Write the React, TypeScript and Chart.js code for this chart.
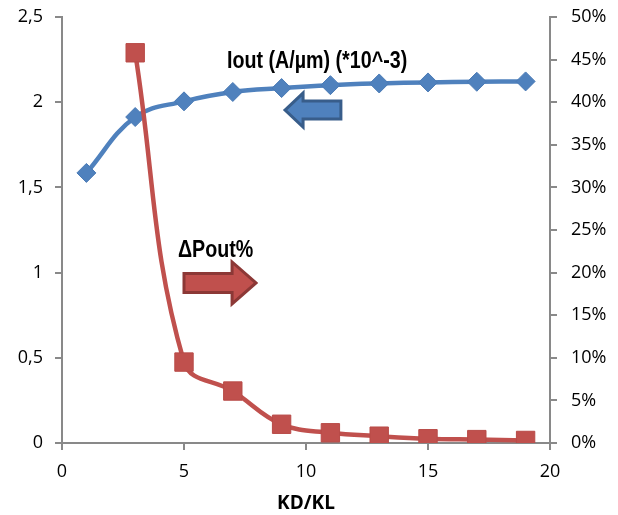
import React, { useEffect, useRef } from "react";
import { Chart, registerables } from "chart.js";

Chart.register(...registerables);

const kdkl = [1, 3, 5, 7, 9, 11, 13, 15, 17, 19];
const ioutValues = [1.585, 1.913, 2.005, 2.06, 2.083, 2.1, 2.11, 2.116, 2.12, 2.122];
const deltaPoutX = [3, 5, 7, 9, 11, 13, 15, 17, 19];
const deltaPoutPct = [45.8, 9.5, 6.1, 2.2, 1.2, 0.8, 0.5, 0.4, 0.3];

const leftTicks = [0, 0.5, 1, 1.5, 2, 2.5];
const rightTicks = [0, 5, 10, 15, 20, 25, 30, 35, 40, 45, 50];

const ioutLabel = "Iout (A/µm) (*10^-3)";
const poutLabel = "ΔPout%";
const xTitle = "KD/KL";

const BLUE = "#4F81BD";
const BLUE_DARK = "#385D8A";
const RED = "#C0504D";
const RED_DARK = "#8C3836";
const AXIS = "#898989";
const TICK_FONT = { family: "'Open Sans', 'DejaVu Sans', sans-serif", size: 18 };
const NOTE_FONT = "bold 24px 'Liberation Sans', Arial, sans-serif";
const NOTE_SQUEEZE = 0.82;

function drawArrow(
  ctx: CanvasRenderingContext2D,
  tipX: number, tailX: number, baseX: number, cy: number,
  bodyHalf: number, headHalf: number, fill: string, stroke: string
) {
  ctx.save();
  ctx.beginPath();
  ctx.moveTo(tipX, cy);
  ctx.lineTo(baseX, cy - headHalf);
  ctx.lineTo(baseX, cy - bodyHalf);
  ctx.lineTo(tailX, cy - bodyHalf);
  ctx.lineTo(tailX, cy + bodyHalf);
  ctx.lineTo(baseX, cy + bodyHalf);
  ctx.lineTo(baseX, cy + headHalf);
  ctx.closePath();
  ctx.fillStyle = fill;
  ctx.fill();
  ctx.lineWidth = 3;
  ctx.lineJoin = "miter";
  ctx.strokeStyle = stroke;
  ctx.stroke();
  ctx.restore();
}

function drawNote(ctx: CanvasRenderingContext2D, text: string, px: number, py: number) {
  ctx.save();
  ctx.translate(px, py);
  ctx.scale(NOTE_SQUEEZE, 1);
  ctx.font = NOTE_FONT;
  ctx.fillStyle = "#000";
  ctx.textBaseline = "alphabetic";
  ctx.textAlign = "left";
  ctx.fillText(text, 0, 0);
  ctx.restore();
}

const notesPlugin = {
  id: "notes",
  afterDraw(chart: any) {
    const { ctx, scales } = chart;
    const x = scales.x;
    const y = scales.yLeft;
    drawNote(ctx, ioutLabel, x.getPixelForValue(6.76), y.getPixelForValue(2.2));
    drawNote(ctx, poutLabel, x.getPixelForValue(4.75), y.getPixelForValue(1.09));
    drawArrow(ctx, x.getPixelForValue(9.14), x.getPixelForValue(11.43), x.getPixelForValue(9.88),
      y.getPixelForValue(1.954), 9, 17, BLUE, BLUE_DARK);
    drawArrow(ctx, x.getPixelForValue(7.95), x.getPixelForValue(5.0), x.getPixelForValue(6.97),
      y.getPixelForValue(0.939), 9.5, 21, RED, RED_DARK);
  },
};

export default function App() {
  const ref = useRef<HTMLCanvasElement | null>(null);
  useEffect(() => {
    document.body.style.margin = "0";
    const canvas = ref.current;
    if (!canvas) return;
    const chart = new Chart(canvas, {
      type: "line",
      data: {
        datasets: [
          {
            label: poutLabel,
            data: deltaPoutX.map((v, i) => ({ x: v, y: deltaPoutPct[i] })),
            yAxisID: "yRight",
            borderColor: RED,
            backgroundColor: RED,
            borderWidth: 4.5,
            pointStyle: "rect",
            pointRadius: 13,
            pointBorderColor: "#B84A47",
            pointBorderWidth: 1,
            tension: 0.4,
          },
          {
            label: ioutLabel,
            data: kdkl.map((v, i) => ({ x: v, y: ioutValues[i] })),
            yAxisID: "yLeft",
            borderColor: BLUE,
            backgroundColor: BLUE,
            borderWidth: 4.5,
            pointStyle: "rectRot",
            pointRadius: 9.5,
            pointBorderColor: "#4A7AB5",
            pointBorderWidth: 1,
            tension: 0.4,
          },
        ],
      },
      options: {
        responsive: false,
        animation: false,
        layout: { padding: { top: 17, left: 0, right: 0, bottom: 0 } },
        plugins: { legend: { display: false }, tooltip: { enabled: false } },
        scales: {
          x: {
            type: "linear",
            min: 0,
            max: 20,
            border: { display: true, color: AXIS, width: 2 },
            grid: { drawOnChartArea: false, drawTicks: true, tickLength: 7, color: AXIS, lineWidth: 2 },
            ticks: { stepSize: 5, padding: 11, color: "#000", font: TICK_FONT },
            title: {
              display: true,
              text: xTitle,
              color: "#000",
              font: { family: "'Open Sans', 'DejaVu Sans', sans-serif", size: 19, weight: "bold" },
              padding: { top: 2, bottom: 0 },
            },
            afterFit: (s: any) => { s.height = 72; s.paddingLeft = 0; s.paddingRight = 0; },
          },
          yLeft: {
            type: "linear",
            position: "left",
            min: 0,
            max: 2.5,
            border: { display: true, color: AXIS, width: 2 },
            grid: { drawOnChartArea: false, drawTicks: true, tickLength: 7, color: AXIS, lineWidth: 2 },
            afterBuildTicks: (s: any) => { s.ticks = leftTicks.map((v) => ({ value: v })); },
            ticks: {
              padding: 12,
              color: "#000",
              font: TICK_FONT,
              callback: (v: any) => String(v).replace(".", ","),
            },
            afterFit: (s: any) => { s.width = 62; s.paddingTop = 0; s.paddingBottom = 0; },
          },
          yRight: {
            type: "linear",
            position: "right",
            min: 0,
            max: 50,
            border: { display: true, color: AXIS, width: 2 },
            grid: { drawOnChartArea: false, drawTicks: true, tickLength: 7, color: AXIS, lineWidth: 2 },
            afterBuildTicks: (s: any) => { s.ticks = rightTicks.map((v) => ({ value: v })); },
            ticks: {
              padding: 14,
              color: "#000",
              font: TICK_FONT,
              callback: (v: any) => `${v}%`,
            },
            afterFit: (s: any) => { s.width = 68; s.paddingTop = 0; s.paddingBottom = 0; },
          },
        },
      },
      plugins: [notesPlugin],
    } as any);
    return () => chart.destroy();
  }, []);
  return (
    <div style={{ width: 618, height: 515 }}>
      <canvas ref={ref} width={618} height={515} style={{ display: "block" }} />
    </div>
  );
}
